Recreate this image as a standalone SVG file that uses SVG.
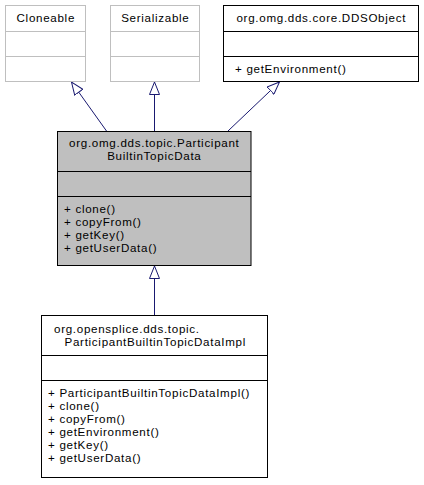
<svg xmlns="http://www.w3.org/2000/svg" width="424" height="485" viewBox="0 0 424 485">
<style>
text{font-family:"Liberation Sans",Arial,sans-serif;font-size:11.6px;letter-spacing:0.7px;fill:#000}
.c{text-anchor:middle}
.box{fill:#fff;stroke:#000;stroke-width:1}
.grey{fill:#fff;stroke:#bfbfbf;stroke-width:1}
.cur{fill:#bfbfbf;stroke:#000;stroke-width:1}
.div{stroke:#000;stroke-width:1}
.gdiv{stroke:#bfbfbf;stroke-width:1}
.edge{stroke:#191970;stroke-width:1;fill:none;marker-end:url(#tri)}
</style>
<defs>
<marker id="tri" viewBox="0 0 14 11" refX="13" refY="5.5" markerWidth="14" markerHeight="11" markerUnits="userSpaceOnUse" orient="auto">
<path d="M0.5,0.5 L13,5.5 L0.5,10.5 Z" fill="#fff" stroke="#191970" stroke-width="1"/>
</marker>
</defs>
<rect width="424" height="485" fill="#fff"/>
<g id="connectors">
<path class="edge" d="M106.5,131 L71.5,82"/>
<path class="edge" d="M154.5,131 L154.5,82"/>
<path class="edge" d="M228,131 L279.5,82"/>
<path class="edge" d="M154.5,315 L154.5,266"/>
</g>
<g id="node-cloneable">
<rect class="grey" x="5.5" y="5.5" width="80" height="76"/>
<line class="gdiv" x1="5.5" y1="31.5" x2="85.5" y2="31.5"/>
<line class="gdiv" x1="5.5" y1="56.5" x2="85.5" y2="56.5"/>
<text class="c" x="45.8" y="22">Cloneable</text>
</g>
<g id="node-serializable">
<rect class="grey" x="110.5" y="5.5" width="89" height="76"/>
<line class="gdiv" x1="110.5" y1="31.5" x2="199.5" y2="31.5"/>
<line class="gdiv" x1="110.5" y1="56.5" x2="199.5" y2="56.5"/>
<text class="c" x="155.3" y="22">Serializable</text>
</g>
<g id="node-ddsobject">
<rect class="box" x="223.5" y="5.5" width="195" height="76"/>
<line class="div" x1="223.5" y1="31.5" x2="418.5" y2="31.5"/>
<line class="div" x1="223.5" y1="56.5" x2="418.5" y2="56.5"/>
<text class="c" x="321.3" y="22">org.omg.dds.core.DDSObject</text>
<text x="235" y="72.5">+ getEnvironment()</text>
</g>
<g id="node-participantbuiltintopicdata">
<rect class="cur" x="57.5" y="131.5" width="193.5" height="134"/>
<line class="div" x1="57.5" y1="171.5" x2="251" y2="171.5"/>
<line class="div" x1="57.5" y1="196.5" x2="251" y2="196.5"/>
<text class="c" x="154.3" y="147">org.omg.dds.topic.Participant</text>
<text class="c" x="154.3" y="160">BuiltinTopicData</text>
<text x="64" y="213">+ clone()</text>
<text x="64" y="226">+ copyFrom()</text>
<text x="64" y="239">+ getKey()</text>
<text x="64" y="252">+ getUserData()</text>
</g>
<g id="node-participantbuiltintopicdataimpl">
<rect class="box" x="41.5" y="315.5" width="226" height="162"/>
<line class="div" x1="41.5" y1="355.5" x2="267.5" y2="355.5"/>
<line class="div" x1="41.5" y1="380.5" x2="267.5" y2="380.5"/>
<text x="54" y="333">org.opensplice.dds.topic.</text>
<text class="c" x="155.3" y="346">ParticipantBuiltinTopicDataImpl</text>
<text x="48" y="397">+ ParticipantBuiltinTopicDataImpl()</text>
<text x="48" y="410">+ clone()</text>
<text x="48" y="423">+ copyFrom()</text>
<text x="48" y="436">+ getEnvironment()</text>
<text x="48" y="449">+ getKey()</text>
<text x="48" y="462">+ getUserData()</text>
</g>
</svg>
